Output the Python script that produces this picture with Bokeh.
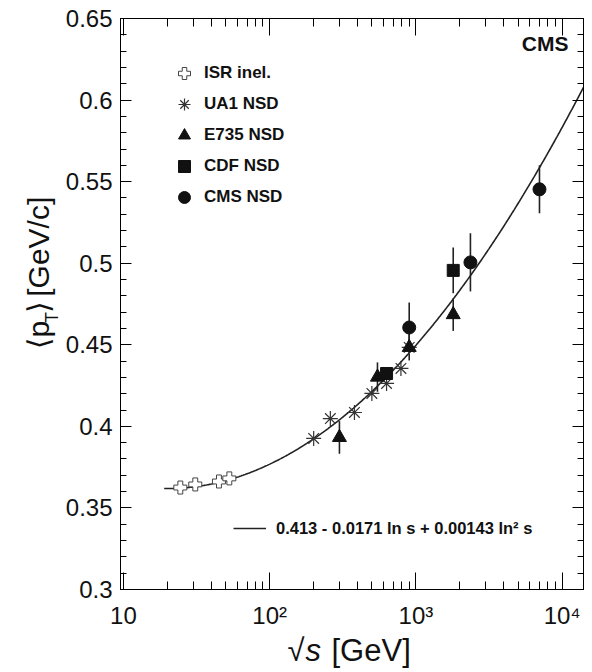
import numpy as np
from math import log10, pi
from bokeh.plotting import figure
from bokeh.layouts import row, column
from bokeh.models import (Range1d, FixedTicker, LogAxis, LinearAxis, Label, Legend,
                          LegendItem, CustomJSTickFormatter)
from bokeh.embed import file_html
from bokeh.resources import INLINE

# ---------------- data ----------------
isr_x = [24.5, 31, 45, 53]
isr_y = [0.3625, 0.3644, 0.3662, 0.3681]

ua1_x = [200, 260, 380, 500, 630, 790, 900]
ua1_y = [0.3926, 0.4048, 0.4085, 0.4202, 0.4263, 0.4355, 0.4484]

e735_x = [300, 546, 900, 1800]
e735_y = [0.3932, 0.4302, 0.4484, 0.4685]
e735_err = [0.010, 0.009, 0.008, 0.010]

cdf_x = [630, 1800]
cdf_y = [0.4324, 0.4956]
cdf_err = [0.004, 0.014]

cms_x = [900, 2360, 7000]
cms_y = [0.4606, 0.5005, 0.5453]
cms_err = [0.0153, 0.0178, 0.0147]

# fit: <pT> = a + b ln s + c ln^2 s  (s = (sqrt s)^2)
fit_coef = [0.413, -0.0171, 0.00143]
fit_sqrts_range = [19, 14000]
fit_label = "0.413 - 0.0171 ln s + 0.00143 ln² s"

x_ticks = [10, 100, 1000, 10000]
x_tick_labels = ["10", "10²", "10³", "10⁴"]
y_ticks = [0.3, 0.35, 0.4, 0.45, 0.5, 0.55, 0.6, 0.65]
y_tick_labels = ["0.3", "0.35", "0.4", "0.45", "0.5", "0.55", "0.6", "0.65"]

# ---------------- layout ----------------
W, H = 592, 672
L, R, T, B = 119, 583, 18, 589
YW = 62          # width of the strip holding the y title
MH = 632         # height of the main figure (incl. tick labels)
x0, x1 = 9.55, 14000.0
y0, y1 = 0.3, 0.65
FONT = "Liberation Sans"
SYM = "DejaVu Sans"
INK = "#111111"

p = figure(width=W - YW, height=MH, x_axis_type="log", output_backend="svg",
           toolbar_location=None, x_range=Range1d(x0, x1), y_range=Range1d(y0, y1),
           min_border_left=L - YW, min_border_right=W - R, min_border_top=T,
           min_border_bottom=MH - B)
p.xgrid.visible = False
p.ygrid.visible = False
p.outline_line_color = "black"
p.background_fill_color = "white"
p.border_fill_color = "white"

minor_x = [m * 10 ** e for e in (1, 2, 3) for m in range(2, 10)]
minor_y = [round(0.30 + 0.01 * i, 2) for i in range(36)]

def style_x(ax, labels=True):
    ax.ticker = FixedTicker(ticks=x_ticks, minor_ticks=minor_x)
    ax.major_tick_in = 17
    ax.major_tick_out = 0
    ax.minor_tick_in = 8
    ax.minor_tick_out = 0
    ax.axis_line_color = "black"
    ax.major_tick_line_color = "black"
    ax.minor_tick_line_color = "black"
    if labels:
        ax.major_label_overrides = dict(zip(x_ticks, x_tick_labels))
        ax.major_label_text_font = FONT
        ax.major_label_text_font_size = "24px"
        ax.major_label_text_color = INK
        ax.major_label_standoff = 12
    else:
        ax.formatter = CustomJSTickFormatter(code="return ''")
        ax.major_label_text_font_size = "1px"
        ax.major_label_standoff = 0

def style_y(ax, labels=True):
    ax.ticker = FixedTicker(ticks=y_ticks, minor_ticks=minor_y)
    ax.major_tick_in = 11
    ax.major_tick_out = 0
    ax.minor_tick_in = 6
    ax.minor_tick_out = 0
    ax.axis_line_color = "black"
    ax.major_tick_line_color = "black"
    ax.minor_tick_line_color = "black"
    if labels:
        ax.major_label_overrides = dict(zip(y_ticks, y_tick_labels))
        ax.major_label_text_font = FONT
        ax.major_label_text_font_size = "24px"
        ax.major_label_text_color = INK
        ax.major_label_standoff = 8
    else:
        ax.formatter = CustomJSTickFormatter(code="return ''")
        ax.major_label_text_font_size = "1px"
        ax.major_label_standoff = 0

style_x(p.xaxis[0])
style_y(p.yaxis[0])
top = LogAxis()
style_x(top, labels=False)
p.add_layout(top, "above")
right = LinearAxis()
style_y(right, labels=False)
p.add_layout(right, "right")

# ---------------- fit curve ----------------
sq = np.logspace(log10(fit_sqrts_range[0]), log10(fit_sqrts_range[1]), 400)
ln_s = 2 * np.log(sq)
fit_y = fit_coef[0] + fit_coef[1] * ln_s + fit_coef[2] * ln_s ** 2
fit_r = p.line(sq, fit_y, line_color="#222222", line_width=1.6)

# ---------------- error bars ----------------
def errbars(xs, ys, es):
    p.segment(x0=xs, x1=xs, y0=[y - e for y, e in zip(ys, es)],
              y1=[y + e for y, e in zip(ys, es)], line_color="#222222", line_width=1.6)

errbars(e735_x, e735_y, e735_err)
errbars(cdf_x, cdf_y, cdf_err)
errbars(cms_x, cms_y, cms_err)

# ---------------- markers ----------------
r_isr = p.scatter(isr_x, isr_y, marker="plus", size=13, fill_color="white",
                  line_color="#444444", line_width=1)
r_ua1 = p.scatter(ua1_x, ua1_y, marker="asterisk", size=15, line_color="#333333",
                  line_width=1.2)
r_e735 = p.scatter(e735_x, e735_y, marker="triangle", size=14, fill_color=INK,
                   line_color=INK)
r_cdf = p.scatter(cdf_x, cdf_y, marker="square", size=12, fill_color=INK,
                  line_color=INK)
r_cms = p.scatter(cms_x, cms_y, marker="circle", size=13, fill_color=INK,
                  line_color=INK)

# ---------------- legends ----------------
leg = Legend(items=[
    LegendItem(label="ISR inel.", renderers=[r_isr]),
    LegendItem(label="UA1 NSD", renderers=[r_ua1]),
    LegendItem(label="E735 NSD", renderers=[r_e735]),
    LegendItem(label="CDF NSD", renderers=[r_cdf]),
    LegendItem(label="CMS NSD", renderers=[r_cms]),
], location=(45, 377), padding=0, margin=0, glyph_width=38, glyph_height=30,
    label_height=30, label_standoff=1, spacing=1,
    label_text_font=FONT, label_text_font_style="bold", label_text_font_size="17px",
    label_text_color=INK, background_fill_alpha=0, border_line_color=None)
p.add_layout(leg)

leg2 = Legend(items=[LegendItem(label=fit_label, renderers=[fit_r])],
              location=(113, 51), padding=0, margin=0, glyph_width=33, glyph_height=20,
              label_height=20, label_standoff=10, spacing=0,
              label_text_font=FONT, label_text_font_style="bold",
              label_text_font_size="16.5px", label_text_color=INK,
              background_fill_alpha=0, border_line_color=None)
p.add_layout(leg2)

p.add_layout(Label(x=567 - L, y=B - 43, x_units="screen", y_units="screen",
                   text="CMS", text_align="right", text_baseline="middle",
                   text_font=FONT, text_font_style="bold", text_font_size="21px",
                   text_color=INK))

# ---------------- title strips (pixel-like data coordinates, y downward) ----------------
def strip(w, h):
    f = figure(width=w, height=h, output_backend="svg", toolbar_location=None,
               x_range=Range1d(0, w), y_range=Range1d(h, 0),
               x_axis_location=None, y_axis_location=None, min_border=0)
    f.xgrid.visible = False
    f.ygrid.visible = False
    f.outline_line_color = None
    f.background_fill_color = "white"
    f.border_fill_color = "white"
    return f

def lab(f, px, py, text, size, style="normal", font=FONT, angle=0.0):
    f.add_layout(Label(x=px, y=py, text=text, text_align="left", text_baseline="middle",
                       text_font=font, text_font_style=style, text_font_size=size,
                       text_color=INK, angle=angle))

ys = strip(YW, MH)
# y axis title: <p_T> [GeV/c]  (reads bottom to top)
lab(ys, 38, 366, "⟨", "30px", font=SYM, angle=pi / 2)
lab(ys, 38, 353, "p", "30px", angle=pi / 2)
lab(ys, 51, 337, "T", "18px", angle=pi / 2)
lab(ys, 38, 326, "⟩", "30px", font=SYM, angle=pi / 2)
lab(ys, 38, 308, "[GeV/c]", "30px", angle=pi / 2)

xs = strip(W, H - MH)
# x axis title: sqrt(s) [GeV]   (strip starts at canvas y = MH)
XT = 650 - MH
lab(xs, 287, XT, "√", "31px")
lab(xs, 305, XT, "s", "31px", style="italic")
lab(xs, 331, XT, "[GeV]", "31px")

layout = column(row(ys, p, spacing=0), xs, spacing=0)
open("out.html", "w").write(file_html(layout, INLINE))
